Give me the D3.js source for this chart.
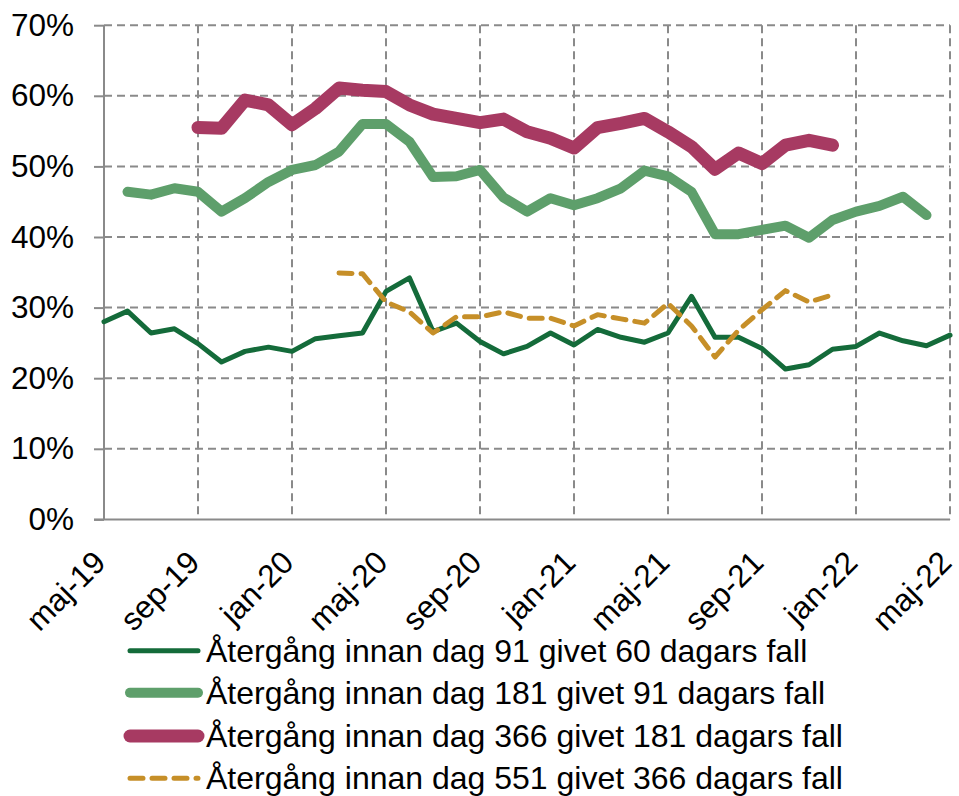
<!DOCTYPE html>
<html>
<head>
<meta charset="utf-8">
<script src="https://cdn.jsdelivr.net/npm/d3@7"></script>
<style>
  html, body { margin: 0; padding: 0; background: #fff; }
  svg { display: block; font-family: "Liberation Sans", Arial, sans-serif; }
</style>
</head>
<body>
<svg id="chart" width="959" height="796"></svg>
<script>
const months = ["2019-05","2019-06","2019-07","2019-08","2019-09","2019-10","2019-11","2019-12",
  "2020-01","2020-02","2020-03","2020-04","2020-05","2020-06","2020-07","2020-08","2020-09","2020-10","2020-11","2020-12",
  "2021-01","2021-02","2021-03","2021-04","2021-05","2021-06","2021-07","2021-08","2021-09","2021-10","2021-11","2021-12",
  "2022-01","2022-02","2022-03","2022-04","2022-05"];
const tickMonths = ["2019-05","2019-09","2020-01","2020-05","2020-09","2021-01","2021-05","2021-09","2022-01","2022-05"];
const tickLabels = ["maj-19","sep-19","jan-20","maj-20","sep-20","jan-21","maj-21","sep-21","jan-22","maj-22"];
const yTicks = [0, 0.1, 0.2, 0.3, 0.4, 0.5, 0.6, 0.7];

const seriesNames = [
  "Återgång innan dag 91 givet 60 dagars fall",
  "Återgång innan dag 181 givet 91 dagars fall",
  "Återgång innan dag 366 givet 181 dagars fall",
  "Återgång innan dag 551 givet 366 dagars fall"
];

const s60 = [28.0,29.5,26.4,27.0,24.9,22.3,23.8,24.4,23.8,25.6,26.0,26.4,32.3,34.2,26.6,27.8,25.2,23.45,
  24.5,26.4,24.7,26.9,25.8,25.1,26.4,31.6,25.8,25.8,24.2,21.3,21.9,24.1,24.5,26.4,25.3,24.6,26.1];
const s91 = [null,46.4,46.0,46.9,46.4,43.6,45.5,47.8,49.5,50.2,52.1,56.0,56.0,53.5,48.5,48.6,49.5,45.6,
  43.6,45.5,44.5,45.5,46.9,49.4,48.6,46.4,40.4,40.4,41.0,41.6,39.9,42.4,43.6,44.4,45.7,43.1,null];
const s181 = [null,null,null,null,55.5,55.4,59.4,58.7,55.9,58.2,61.1,60.8,60.6,58.7,57.4,56.8,56.2,56.7,
  54.9,54.0,52.6,55.5,56.1,56.8,54.9,52.8,49.6,51.9,50.4,53.0,53.7,53.0,null,null,null,null,null];
const s366 = [null,null,null,null,null,null,null,null,null,null,34.9,34.8,30.8,29.4,26.4,28.7,28.7,29.4,
  28.5,28.5,27.4,29.0,28.4,27.8,30.6,27.4,23.0,26.8,29.7,32.4,30.8,31.8,null,null,null,null,null];

const colors = ["#146b3a", "#5e9f6b", "#a73a62", "#c68f28"];
const widths = [5, 10, 13, 5];
const dashes = [null, null, null, "13,9"];
const allSeries = [s60, s91, s181, s366];

const svg = d3.select("#chart");
const mLeft = 104, mRight = 950, mTop = 25.2, mBottom = 519.4;

const x = d3.scalePoint().domain(months).range([mLeft, mRight]);
const y = d3.scaleLinear().domain([0, 0.7]).range([mBottom, mTop]);

const gridColor = "#8a8a8a";

// horizontal gridlines
svg.append("g").selectAll("line").data(yTicks.filter(d => d > 0)).join("line")
  .attr("x1", mLeft).attr("x2", mRight)
  .attr("y1", d => y(d)).attr("y2", d => y(d))
  .attr("stroke", gridColor).attr("stroke-width", 2).attr("stroke-dasharray", "8,5");

// vertical gridlines
svg.append("g").selectAll("line").data(tickMonths.slice(1)).join("line")
  .attr("x1", d => x(d)).attr("x2", d => x(d))
  .attr("y1", mTop).attr("y2", mBottom)
  .attr("stroke", gridColor).attr("stroke-width", 2).attr("stroke-dasharray", "8,5");

// y axis
const yAxis = d3.axisLeft(y).tickValues(yTicks).tickFormat(d3.format(".0%")).tickSize(10).tickPadding(20);
const gy = svg.append("g").attr("transform", `translate(${mLeft},0)`).call(yAxis);
gy.select(".domain").attr("stroke", gridColor).attr("stroke-width", 2).attr("d", `M0,${mTop}V${mBottom}`);
gy.selectAll(".tick line").attr("stroke", gridColor).attr("stroke-width", 2);
gy.selectAll(".tick text").attr("font-size", 31.5).attr("fill", "#000").attr("font-family", "Liberation Sans, Arial, sans-serif");

// x axis
const xAxis = d3.axisBottom(x).tickValues(tickMonths)
  .tickFormat((d, i) => tickLabels[i]).tickSize(0).tickPadding(0);
const gx = svg.append("g").attr("transform", `translate(0,${mBottom})`).call(xAxis);
gx.select(".domain").attr("stroke", gridColor).attr("stroke-width", 2).attr("d", `M${mLeft - 10},0H${mRight}`);
gx.selectAll(".tick text")
  .attr("font-size", 31.5).attr("fill", "#000").attr("font-family", "Liberation Sans, Arial, sans-serif")
  .attr("text-anchor", "end").attr("dy", null).attr("y", 0)
  .attr("transform", "translate(3,45) rotate(-45)");

// lines
const line = d3.line()
  .defined(d => d.v !== null)
  .x(d => x(d.m)).y(d => y(d.v / 100));

allSeries.forEach((s, i) => {
  const data = months.map((m, j) => ({ m: m, v: s[j] }));
  svg.append("path").datum(data)
    .attr("d", line)
    .attr("fill", "none")
    .attr("stroke", colors[i])
    .attr("stroke-width", widths[i])
    .attr("stroke-linejoin", "round")
    .attr("stroke-linecap", "round")
    .attr("stroke-dasharray", dashes[i]);
});

// legend
const legendRows = [650.7, 692.7, 736, 778.3];
const lg = svg.append("g");
seriesNames.forEach((name, i) => {
  const g = lg.append("g").attr("transform", `translate(0,${legendRows[i]})`);
  g.append("line").attr("x1", 130).attr("x2", 198).attr("y1", 0).attr("y2", 0)
    .attr("stroke", colors[i]).attr("stroke-width", widths[i])
    .attr("stroke-linecap", "round").attr("stroke-dasharray", dashes[i]);
  g.append("text").attr("x", 206).attr("y", 11)
    .attr("font-size", 32).attr("fill", "#000")
    .text(name);
});
</script>
</body>
</html>
